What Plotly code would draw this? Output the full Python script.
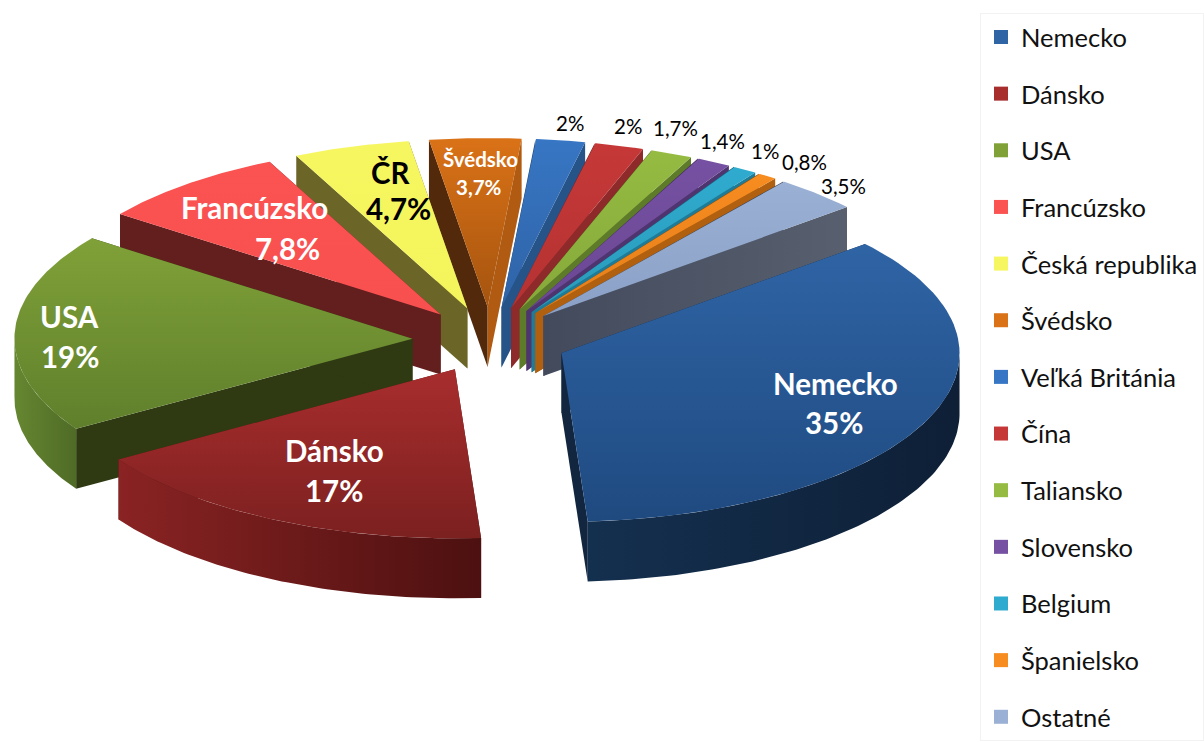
import numpy as np
import plotly.graph_objects as go

# share of each country, clockwise from the first slice
countries = ['Nemecko', 'Dánsko', 'USA', 'Francúzsko', 'Česká republika', 'Švédsko', 'Veľká Británia',
             'Čína', 'Taliansko', 'Slovensko', 'Belgium', 'Španielsko', 'Ostatné']
values = [35, 17, 19, 7.8, 4.7, 3.7, 2, 2, 1.7, 1.4, 1, 0.8, 3.5]
value_labels = ['35%', '17%', '19%', '7,8%', '4,7%', '3,7%', '2%', '2%', '1,7%', '1,4%', '1%', '0,8%', '3,5%']
short_names = ['Nemecko', 'Dánsko', 'USA', 'Francúzsko', 'ČR', 'Švédsko', '', '', '', '', '', '', '']

# colours: top surface (upper, lower), outer wall (left, right), cut faces (start edge, end edge)
top_cols = [('#2f64a5', '#1f4a80'), ('#a82d2d', '#7c2020'), ('#80a138', '#5f7f2c'), ('#fb5252', '#f84f4f'),
            ('#f6f660', '#f4f45c'), ('#da7217', '#a5540f'), ('#3776c4', '#2f63a6'), ('#c63838', '#b53232'),
            ('#95bb42', '#86a93a'), ('#7651a3', '#6a4793'), ('#2fabcf', '#2a9ab9'), ('#f78c20', '#e57f1a'),
            ('#9ab0d4', '#8aa0c6')]
wall_cols = [('#14304f', '#0e1f36'), ('#8a2323', '#4d1010'), ('#668731', '#4f6b26'), ('#7a2424', '#5a1a1a'),
             ('#8f8f38', '#7a7a30'), ('#8a4a10', '#6e3a0c'), ('#265488', '#1f4570'), ('#8e2a2a', '#752222'),
             ('#5e7b2a', '#4e6723'), ('#4f3570', '#412b5d'), ('#1f7c98', '#196880'), ('#b0600f', '#94500c'),
             ('#5a6477', '#4a5366')]
start_faces = ['#12263f', '#551414', '#2f3a13', '#631e1e', '#6b6628', '#52290a', '#1f4570', '#752222', '#4e6723',
               '#412b5d', '#196880', '#94500c', '#3f4657']
end_faces = ['#12263f', '#551414', '#2f3a13', '#631e1e', '#6b6628', '#b05a12', '#265488', '#8e2a2a', '#5e7b2a',
             '#4f3570', '#1f7c98', '#b0600f', ('#424a5c', '#58606f')]

# projected pie geometry, in picture pixels
CX, CY = 492.5, 340
RX, RY = 400, 169
SKEW_X, SKEW_Y = 5, 2.5  # the original's slight tilt of the ellipse
DEPTH = 60
EXPLODE = 0.195
FIRST_ANGLE = 49

# label centres
label_pos = {
    'Nemecko': (840, 383), '35%': (838, 422),
    'Dánsko': (336, 450), '17%': (336, 490),
    'USA': (70, 316), '19%': (70, 356),
    'Francúzsko': (256, 207), '7,8%': (289, 248),
    'ČR': (393, 172), '4,7%': (400, 208),
    'Švédsko': (483, 159), '3,7%': (481, 187),
}
outer_pos = [(573, 123), (631, 126), (679, 128), (726, 141), (769, 151), (809, 162), (848, 186)]

fig = go.Figure()


def add_poly(xs, ys, col, kind='horizontal'):
    trace = dict(x=xs, y=ys, mode='lines', fill='toself', line=dict(width=0), hoverinfo='skip', showlegend=False)
    if isinstance(col, str):
        trace['fillcolor'] = col
    else:
        # y axis is flipped, so a vertical gradient has to run lower -> upper
        scale = [[0, col[0]], [1, col[1]]] if kind == 'horizontal' else [[0, col[1]], [1, col[0]]]
        trace['fillgradient'] = dict(type=kind, colorscale=scale)
    fig.add_trace(go.Scatter(**trace))


def project(angle, r=1.0):
    x = (np.sin(angle) * RX + np.cos(angle) * SKEW_X) * r
    y = (-np.cos(angle) * RY + np.sin(angle) * SKEW_Y) * r
    return x, y


total = sum(values)
edges = np.radians(FIRST_ANGLE + np.cumsum([0] + values) / total * 360)
mids = (edges[:-1] + edges[1:]) / 2

# back slices first so nearer ones paint over them
for i in np.argsort(-np.cos(mids)):
    a0, a1 = edges[i], edges[i + 1]
    ox, oy = project(mids[i], EXPLODE)
    ax, ay = CX + ox, CY + oy  # apex of this slice
    arc = np.linspace(a0, a1, 80)
    px, py = project(arc)
    px, py = ax + px, ay + py

    # cut faces
    add_poly([ax, px[0], px[0], ax], [ay, py[0], py[0] + DEPTH, ay + DEPTH], start_faces[i])
    add_poly([ax, px[-1], px[-1], ax], [ay, py[-1], py[-1] + DEPTH, ay + DEPTH], end_faces[i])
    # outer wall, only the part that faces the viewer
    w0, w1 = max(a0, np.pi / 2), min(a1, 3 * np.pi / 2)
    if w1 > w0:
        wx, wy = project(np.linspace(w0, w1, 80))
        wx, wy = ax + wx, ay + wy
        add_poly(list(wx) + list(wx[::-1]), list(wy) + list(wy[::-1] + DEPTH), wall_cols[i])
    # top surface
    add_poly([ax] + list(px) + [ax], [ay] + list(py) + [ay], top_cols[i], 'vertical')

# legend entries
for i, name in enumerate(countries):
    fig.add_trace(go.Scatter(x=[None], y=[None], mode='markers', name=name, legendgroup=name,
                             marker=dict(symbol='square', size=14, color=top_cols[i][0], line=dict(width=0))))

annotations = []
for i, name in enumerate(short_names):
    if not name:
        continue
    size = 20.5 if name == 'Švédsko' else 29.5
    col = 'black' if name == 'ČR' else 'white'
    for txt in (name, value_labels[i]):
        x, y = label_pos[txt]
        annotations.append(dict(x=x, y=y, text=f'<b>{txt}</b>', showarrow=False, xanchor='center', yanchor='middle',
                                font=dict(size=size, color=col)))
for txt, (x, y) in zip(value_labels[6:], outer_pos):
    annotations.append(dict(x=x, y=y, text=txt, showarrow=False, xanchor='center', yanchor='middle',
                            font=dict(size=20.5, color='black')))

fig.update_layout(
    width=1204, height=742,
    margin=dict(l=0, r=0, t=0, b=0),
    paper_bgcolor='white', plot_bgcolor='white',
    font=dict(family='Lato, Liberation Sans, sans-serif'),
    xaxis=dict(range=[0, 1204], visible=False, fixedrange=True),
    yaxis=dict(range=[742, 0], visible=False, fixedrange=True),
    annotations=annotations,
    legend=dict(x=0.8182, y=0.9826, xanchor='left', yanchor='top', bgcolor='white', bordercolor='#f2f2f2', borderwidth=1,
                tracegroupgap=20.5, font=dict(size=25.5, color='#111111')),
)

# the page's default body margin would push the figure 8px off
fig.write_html('out.html', config=dict(displayModeBar=False), post_script="document.body.style.margin='0';")
